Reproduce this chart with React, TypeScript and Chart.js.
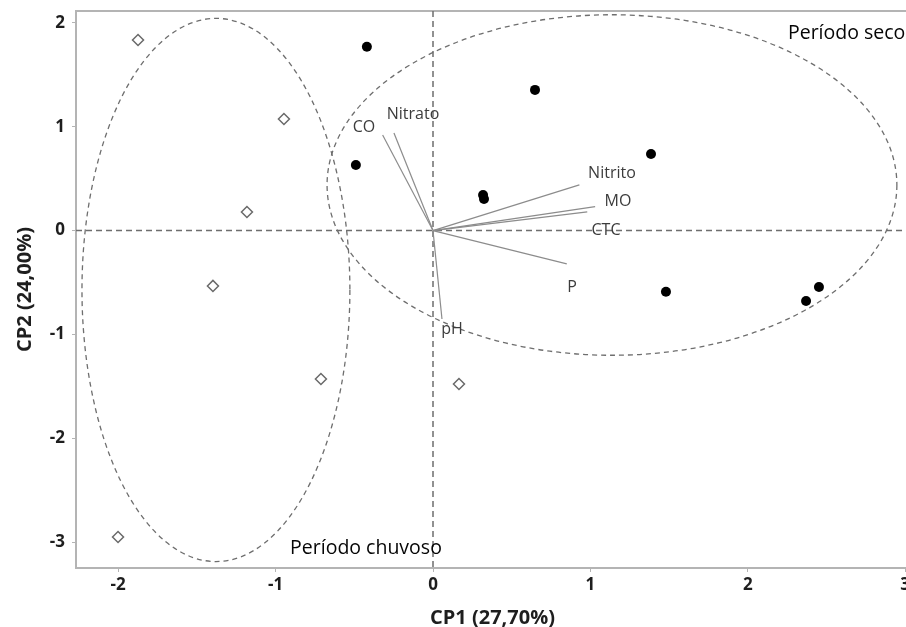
import React, { useEffect, useRef } from "react";
import { Chart, registerables } from "chart.js";

Chart.register(...registerables);

// Scores – Período seco (filled circles)
const secoX = [-0.42, -0.49, 0.318, 0.324, 0.648, 1.385, 1.48, 2.37, 2.452];
const secoY = [1.77, 0.632, 0.343, 0.305, 1.355, 0.738, -0.59, -0.678, -0.543];

// Scores – Período chuvoso (open diamonds)
const chuvosoX = [-1.874, -0.947, -1.182, -1.398, -0.712, -2.001, 0.165];
const chuvosoY = [1.836, 1.075, 0.179, -0.533, -1.429, -2.951, -1.478];

// Loadings (vectors from origin)
const varNames = ["CO", "Nitrato", "Nitrito", "MO", "CTC", "P", "pH"];
const loadX = [-0.32, -0.248, 0.93, 1.03, 0.98, 0.85, 0.057];
const loadY = [0.921, 0.94, 0.44, 0.23, 0.18, -0.32, -0.852];
const varLabelX = [-0.438, -0.127, 1.137, 1.175, 1.099, 0.883, 0.121];
const varLabelY = [0.998, 1.123, 0.555, 0.276, 0.006, -0.543, -0.955];

// Group ellipses
const groupNames = ["Período seco", "Período chuvoso"];
const ellipseCX = [1.137, -1.379];
const ellipseCY = [0.439, -0.572];
const ellipseRX = [1.81, 0.851];
const ellipseRY = [1.64, 2.616];
const groupLabelX = [2.255, -0.908];
const groupLabelY = [1.9, -3.06];

// Axes
const xTicks = [-2, -1, 0, 1, 2, 3];
const yTicks = [-3, -2, -1, 0, 1, 2];
const xMin = -2.268;
const xMax = 3.024;
const yMin = -3.25;
const yMax = 2.115;
const xTitle = "CP1 (27,70%)";
const yTitle = "CP2 (24,00%)";

const FONT = "'Open Sans', 'Noto Sans', sans-serif";

const overlayPlugin = {
  id: "pcaOverlay",
  beforeDatasetsDraw(chart: any) {
    const { ctx, chartArea, scales } = chart;
    const xs = scales.x;
    const ys = scales.y;
    ctx.save();
    // top border
    ctx.strokeStyle = "#b4b4b4";
    ctx.lineWidth = 2;
    ctx.beginPath();
    ctx.moveTo(chartArea.left, chartArea.top);
    ctx.lineTo(chartArea.right, chartArea.top);
    ctx.stroke();

    ctx.beginPath();
    ctx.rect(chartArea.left, chartArea.top, chartArea.right - chartArea.left, chartArea.bottom - chartArea.top);
    ctx.clip();

    // reference lines
    ctx.strokeStyle = "#6e6e6e";
    ctx.lineWidth = 1.5;
    ctx.setLineDash([6, 4]);
    const x0 = xs.getPixelForValue(0);
    const y0 = ys.getPixelForValue(0);
    ctx.beginPath();
    ctx.moveTo(x0, chartArea.top);
    ctx.lineTo(x0, chartArea.bottom);
    ctx.moveTo(chartArea.left, y0);
    ctx.lineTo(chartArea.right, y0);
    ctx.stroke();

    // ellipses
    ctx.strokeStyle = "#6e6e6e";
    ctx.lineWidth = 1.3;
    ctx.setLineDash([5, 4]);
    for (let i = 0; i < ellipseCX.length; i++) {
      const cx = xs.getPixelForValue(ellipseCX[i]);
      const cy = ys.getPixelForValue(ellipseCY[i]);
      const rx = Math.abs(xs.getPixelForValue(ellipseCX[i] + ellipseRX[i]) - cx);
      const ry = Math.abs(ys.getPixelForValue(ellipseCY[i] + ellipseRY[i]) - cy);
      ctx.beginPath();
      ctx.ellipse(cx, cy, rx, ry, 0, 0, Math.PI * 2);
      ctx.stroke();
    }
    ctx.restore();
  },
  afterDatasetsDraw(chart: any) {
    const { ctx, scales } = chart;
    const xs = scales.x;
    const ys = scales.y;
    ctx.save();
    ctx.fillStyle = "#3c3c3c";
    ctx.font = `16px ${FONT}`;
    ctx.textAlign = "center";
    ctx.textBaseline = "middle";
    for (let i = 0; i < varNames.length; i++) {
      ctx.fillText(varNames[i], xs.getPixelForValue(varLabelX[i]), ys.getPixelForValue(varLabelY[i]));
    }
    ctx.fillStyle = "#050505";
    ctx.font = `19.5px ${FONT}`;
    ctx.textAlign = "left";
    for (let i = 0; i < groupNames.length; i++) {
      ctx.fillText(groupNames[i], xs.getPixelForValue(groupLabelX[i]), ys.getPixelForValue(groupLabelY[i]));
    }
    ctx.restore();
  },
};

export default function App() {
  const ref = useRef<HTMLCanvasElement | null>(null);

  useEffect(() => {
    if (!ref.current) return;
    const vectorSets = varNames.map((name, i) => ({
      type: "scatter" as const,
      label: name,
      data: [
        { x: 0, y: 0 },
        { x: loadX[i], y: loadY[i] },
      ],
      showLine: true,
      borderColor: "#8c8c8c",
      borderWidth: 1.2,
      pointRadius: 0,
      fill: false,
    }));
    const chart = new Chart(ref.current, {
      type: "scatter",
      data: {
        datasets: [
          ...vectorSets,
          {
            label: groupNames[0],
            data: secoX.map((x, i) => ({ x, y: secoY[i] })),
            pointStyle: "circle",
            pointRadius: 5,
            backgroundColor: "#000",
            borderColor: "#000",
            borderWidth: 0,
          },
          {
            label: groupNames[1],
            data: chuvosoX.map((x, i) => ({ x, y: chuvosoY[i] })),
            pointStyle: "rectRot",
            pointRadius: 5.5,
            backgroundColor: "#fff",
            borderColor: "#6a6a6a",
            borderWidth: 1.5,
          },
          {
            label: groupNames[1] + " centro",
            data: chuvosoX.map((x, i) => ({ x, y: chuvosoY[i] })),
            pointStyle: "circle",
            pointRadius: 1,
            backgroundColor: "#888",
            borderWidth: 0,
          },
        ],
      },
      options: {
        responsive: false,
        animation: false,
        events: [],
        layout: { padding: { top: 11, right: 11, bottom: 0, left: 0 } },
        plugins: {
          legend: { display: false },
          tooltip: { enabled: false },
        },
        scales: {
          x: {
            type: "linear",
            min: xMin,
            max: xMax,
            afterBuildTicks: (s: any) => {
              s.ticks = xTicks.map((v) => ({ value: v }));
            },
            afterFit: (s: any) => {
              s.height = 62;
              s.paddingLeft = 0;
              s.paddingRight = 0;
            },
            grid: {
              drawOnChartArea: false,
              drawTicks: true,
              tickLength: 4,
              color: "#b4b4b4",
              lineWidth: 1,
            },
            border: { display: true, color: "#b4b4b4", width: 2 },
            ticks: {
              padding: 3,
              color: "#1e1e1e",
              font: { family: FONT, size: 17, weight: "bold" },
              callback: (v: any) => String(v),
            },
            title: {
              display: true,
              text: xTitle,
              color: "#1e1e1e",
              font: { family: FONT, size: 20, weight: "bold" },
              padding: { top: 0, bottom: 0 },
            },
          },
          y: {
            type: "linear",
            min: yMin,
            max: yMax,
            afterBuildTicks: (s: any) => {
              s.ticks = yTicks.map((v) => ({ value: v }));
            },
            afterFit: (s: any) => {
              s.width = 76;
              s.paddingTop = 0;
              s.paddingBottom = 0;
            },
            grid: {
              drawOnChartArea: false,
              drawTicks: true,
              tickLength: 4,
              color: "#b4b4b4",
              lineWidth: 1,
            },
            border: { display: true, color: "#b4b4b4", width: 2 },
            ticks: {
              padding: 7,
              color: "#1e1e1e",
              font: { family: FONT, size: 17, weight: "bold" },
              callback: (v: any) => String(v),
            },
            title: {
              display: true,
              text: yTitle,
              color: "#1e1e1e",
              font: { family: FONT, size: 20, weight: "bold" },
              padding: { top: 13, bottom: 0 },
            },
          },
        },
      },
      plugins: [overlayPlugin],
    } as any);
    return () => chart.destroy();
  }, []);

  return (
    <div
      style={{
        position: "absolute",
        left: 0,
        top: 0,
        width: 906,
        height: 627,
        overflow: "hidden",
        background: "#fff",
      }}
    >
      <canvas ref={ref} width={920} height={630} style={{ display: "block" }} />
    </div>
  );
}
